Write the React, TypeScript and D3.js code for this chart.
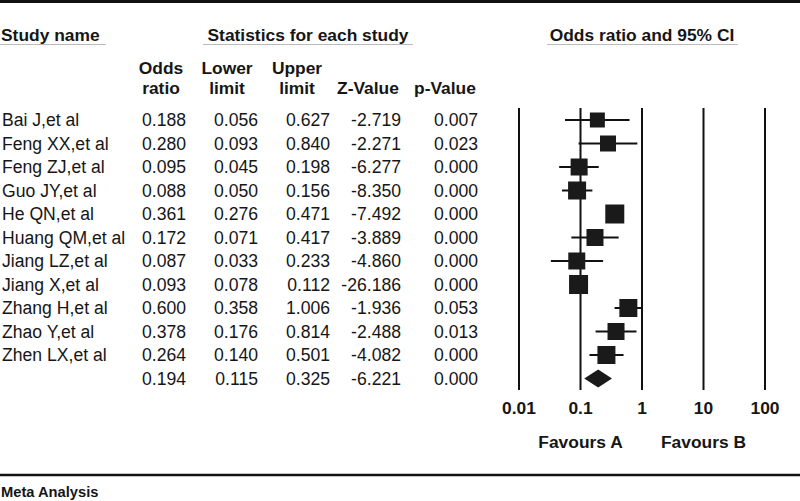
import React from "react";
import * as d3 from "d3";

const studies = [
  "Bai J,et al",
  "Feng XX,et al",
  "Feng ZJ,et al",
  "Guo JY,et al",
  "He QN,et al",
  "Huang QM,et al",
  "Jiang LZ,et al",
  "Jiang X,et al",
  "Zhang H,et al",
  "Zhao Y,et al",
  "Zhen LX,et al",
];
const oddsRatio = [0.188, 0.28, 0.095, 0.088, 0.361, 0.172, 0.087, 0.093, 0.6, 0.378, 0.264];
const lowerLimit = [0.056, 0.093, 0.045, 0.05, 0.276, 0.071, 0.033, 0.078, 0.358, 0.176, 0.14];
const upperLimit = [0.627, 0.84, 0.198, 0.156, 0.471, 0.417, 0.233, 0.112, 1.006, 0.814, 0.501];
const zValue = [-2.719, -2.271, -6.277, -8.35, -7.492, -3.889, -4.86, -26.186, -1.936, -2.488, -4.082];
const pValue = [0.007, 0.023, 0.0, 0.0, 0.0, 0.0, 0.0, 0.0, 0.053, 0.013, 0.0];
const relativeWeight = [15, 16, 17, 18, 19, 17, 17, 19, 18, 17, 18];
const summary = { or: 0.194, lower: 0.115, upper: 0.325, z: -6.221, p: 0.0 };
const axisTicks = [0.01, 0.1, 1, 10, 100];
const tickLabels = ["0.01", "0.1", "1", "10", "100"];
const favourLabels = ["Favours A", "Favours B"];
const favourAt = [0.1, 10];
const headTop = ["Odds", "Lower", "Upper", "", ""];
const headBot = ["ratio", "limit", "limit", "Z-Value", "p-Value"];

const W = 800;
const H = 501;
const FONT = "'Liberation Sans', Arial, sans-serif";

export default function App() {
  const x = d3.scaleLog().domain([0.01, 100]).range([519, 765]);
  const nRows = studies.length + 1;
  const y = d3.scaleLinear().domain([0, nRows - 1]).range([120, 378.5]);
  const size = d3.scaleLinear().domain([15, 19]).range([15, 19]);
  const colRight = [186, 258, 330, 401, 478];
  const headCenter = [161, 227, 297, 368, 445];
  const f3 = (v: number) => v.toFixed(3);
  const rows = studies.map((s, i) => ({
    name: s,
    vals: [oddsRatio[i], lowerLimit[i], upperLimit[i], zValue[i], pValue[i]],
  }));
  const sumVals = [summary.or, summary.lower, summary.upper, summary.z, summary.p];
  const txt = { fontFamily: FONT, fontSize: 17.6, fill: "#161616" } as const;
  const bold = { fontFamily: FONT, fontSize: 17.4, fontWeight: 700, fill: "#161616" } as const;
  const yTop = 108;
  const yBot = 390;
  const sy = y(nRows - 1);
  return (
    <svg width={W} height={H} style={{ position: "absolute", left: 0, top: 0, background: "#fff" }}>
      <rect x={0} y={0} width={W} height={H} fill="#fff" />
      <line x1={0} x2={W} y1={1.5} y2={1.5} stroke="#111" strokeWidth={3} />
      <line x1={0} x2={W} y1={475} y2={475} stroke="#111" strokeWidth={2.5} />
      <text x={1} y={497} style={{ ...bold, fontSize: 14.7 }}>Meta Analysis</text>

      {/* section headers */}
      <text x={1} y={41} style={bold}>Study name</text>
      <line x1={0} x2={106} y1={44.5} y2={44.5} stroke="#bbb" strokeWidth={1} />
      <text x={308} y={41} textAnchor="middle" style={bold}>Statistics for each study</text>
      <line x1={203} x2={413} y1={44.5} y2={44.5} stroke="#bbb" strokeWidth={1} />
      <text x={642} y={41} textAnchor="middle" style={bold}>Odds ratio and 95% CI</text>
      <line x1={547} x2={738} y1={44.5} y2={44.5} stroke="#bbb" strokeWidth={1} />

      {headTop.map((h, j) => (
        <g key={"h" + j}>
          {h && (
            <text x={headCenter[j]} y={74} textAnchor="middle" style={bold}>{h}</text>
          )}
          <text x={headCenter[j]} y={94} textAnchor="middle" style={bold}>{headBot[j]}</text>
        </g>
      ))}

      {rows.map((r, i) => (
        <g key={"r" + i}>
          <text x={2} y={y(i) + 6.3} style={txt}>{r.name}</text>
          {r.vals.map((v, j) => (
            <text key={j} x={colRight[j]} y={y(i) + 6.3} textAnchor="end" style={txt}>{f3(v)}</text>
          ))}
        </g>
      ))}
      {sumVals.map((v, j) => (
        <text key={"s" + j} x={colRight[j]} y={sy + 6.3} textAnchor="end" style={txt}>{f3(v)}</text>
      ))}

      {/* axis verticals */}
      {axisTicks.map((t, k) => (
        <line key={"v" + k} x1={x(t)} x2={x(t)} y1={yTop} y2={yBot} stroke="#111" strokeWidth={2} />
      ))}
      {axisTicks.map((t, k) => (
        <text key={"t" + k} x={x(t)} y={414} textAnchor="middle" style={bold}>{tickLabels[k]}</text>
      ))}
      {favourLabels.map((l, k) => (
        <text key={"f" + k} x={x(favourAt[k])} y={448} textAnchor="middle" style={bold}>{l}</text>
      ))}

      {/* CIs and squares */}
      {rows.map((r, i) => {
        const s = size(relativeWeight[i]);
        return (
          <g key={"m" + i}>
            <line x1={x(lowerLimit[i])} x2={x(upperLimit[i])} y1={y(i)} y2={y(i)} stroke="#111" strokeWidth={2} />
            <rect x={x(oddsRatio[i]) - s / 2} y={y(i) - s / 2} width={s} height={s} fill="#1a1a1a" />
          </g>
        );
      })}
      <path
        d={`M${x(summary.lower)},${sy} L${x(summary.or)},${sy - 9} L${x(summary.upper)},${sy} L${x(summary.or)},${sy + 9} Z`}
        fill="#1a1a1a"
      />
    </svg>
  );
}
